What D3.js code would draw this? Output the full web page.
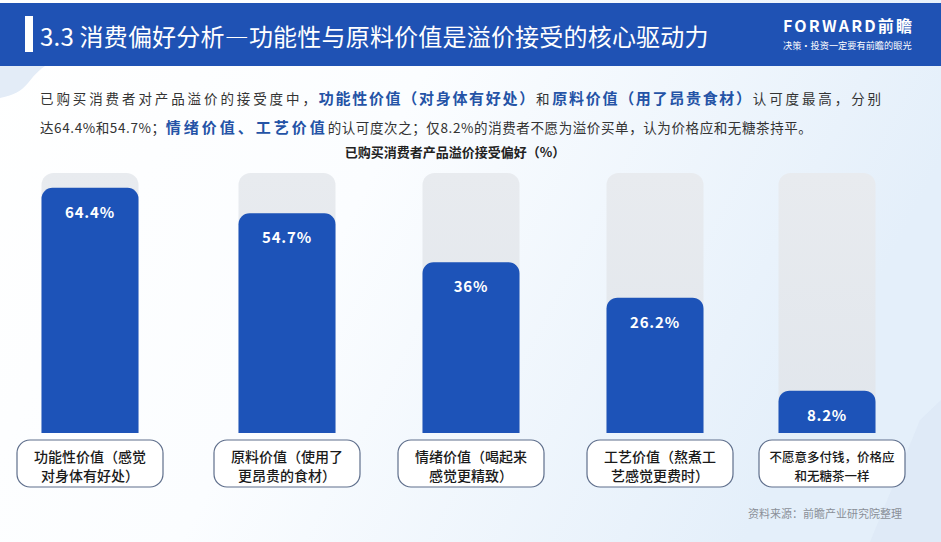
<!DOCTYPE html>
<html lang="zh-CN">
<head>
<meta charset="utf-8">
<title>消费偏好分析</title>
<style>
  body { margin: 0; background: #fff; }
  svg { display: block; font-family: "Noto Sans CJK SC", "Noto Sans", sans-serif; }
</style>
<script src="https://d3js.org/d3.v7.min.js"></script>
</head>
<body>
<svg id="chart" width="941" height="542"></svg>
<script>
// data
var categories = ["功能性价值", "原料价值", "情绪价值", "工艺价值", "不愿意多付钱"];
var values = [64.4, 54.7, 36, 26.2, 8.2];
var boxLines = [
  ["功能性价值（感觉", "对身体有好处）"],
  ["原料价值（使用了", "更昂贵的食材）"],
  ["情绪价值（喝起来", "感觉更精致）"],
  ["工艺价值（熬煮工", "艺感觉更费时）"],
  ["不愿意多付钱，价格应", "和无糖茶一样"]
];

var title = "3.3 消费偏好分析—功能性与原料价值是溢价接受的核心驱动力";
var chartTitle = "已购买消费者产品溢价接受偏好（%）";
var source = "资料来源：前瞻产业研究院整理";
var intro = [
  [["已购买消费者对产品溢价的接受度中，", 0], ["功能性价值（对身体有好处）", 1], ["和", 0],
   ["原料价值（用了昂贵食材）", 1], ["认可度最高，分别", 0]],
  [["达64.4%和54.7%；", 0], ["情绪价值、工艺价值", 1], ["的认可度次之；仅8.2%的消费者不愿为溢价买单，认为价格应和无糖茶持平。", 0]]
];

var svg = d3.select("#chart");
var W = 941, H = 542;

// background
var defs = svg.append("defs");
var bg = defs.append("linearGradient").attr("id", "bg").attr("x1", 0).attr("x2", 1).attr("y1", 0).attr("y2", 0.3);
bg.append("stop").attr("offset", "0%").attr("stop-color", "#ffffff");
bg.append("stop").attr("offset", "45%").attr("stop-color", "#fbfdff");
bg.append("stop").attr("offset", "100%").attr("stop-color", "#e4effa");
svg.append("rect").attr("width", W).attr("height", H).attr("fill", "url(#bg)");
svg.append("path").attr("d", "M 0,66 L 45,66 C 25,80 30,92 0,98 Z").attr("fill", "#e3ecf7");
svg.append("path").attr("d", "M 870,542 L 920,420 L 941,400 L 941,542 Z").attr("fill", "#dde9f6").attr("opacity", 0.8);

// header
svg.append("rect").attr("x", 0).attr("y", 3).attr("width", W).attr("height", 63).attr("fill", "#1f52b4");
svg.append("rect").attr("x", 25).attr("y", 16).attr("width", 8).attr("height", 36).attr("fill", "#fff");
svg.append("text").attr("x", 40).attr("y", 46).attr("fill", "#fff")
  .attr("font-size", 24).attr("letter-spacing", 0.2).text(title);
svg.append("text").attr("x", 783).attr("y", 32).attr("fill", "#fff")
  .attr("font-size", 16).attr("font-weight", "bold").attr("textLength", 129).text("FORWARD前瞻");
svg.append("text").attr("x", 783).attr("y", 49).attr("fill", "#fff")
  .attr("font-size", 9.2).text("决策·投资一定要有前瞻的眼光");

// intro text
var spacing = [[2.9, 1.7], [0.6, 3]];
intro.forEach(function(line, i) {
  var t = svg.append("text").attr("x", 40).attr("y", 104 + i * 29);
  line.forEach(function(seg) {
    t.append("tspan")
      .attr("font-size", seg[1] ? 15 : 13.5)
      .attr("font-weight", seg[1] ? "bold" : "normal")
      .attr("letter-spacing", spacing[i][seg[1]])
      .attr("fill", seg[1] ? "#2453a6" : "#333")
      .text(seg[0]);
  });
});

svg.append("text").attr("x", 455).attr("y", 157).attr("text-anchor", "middle")
  .attr("font-size", 13).attr("font-weight", "bold").attr("fill", "#222").text(chartTitle);

// scales
var x = d3.scaleOrdinal().domain(categories).range([90, 287, 471, 655, 827]);
var barW = 97;
var baseY = 433, trackTop = 173;
var y = d3.scaleLinear().domain([0, 30, 70]).range([baseY, baseY - 155, trackTop]);

function topRounded(x0, y0, w, h, r) {
  var p = d3.path();
  p.moveTo(x0, y0 + h);
  p.lineTo(x0, y0 + r);
  p.arcTo(x0, y0, x0 + r, y0, r);
  p.lineTo(x0 + w - r, y0);
  p.arcTo(x0 + w, y0, x0 + w, y0 + r, r);
  p.lineTo(x0 + w, y0 + h);
  p.closePath();
  return p.toString();
}

var track = defs.append("linearGradient").attr("id", "track").attr("x1", 0).attr("x2", 0).attr("y1", 0).attr("y2", 1);
track.append("stop").attr("offset", "0%").attr("stop-color", "#e8ebef");
track.append("stop").attr("offset", "100%").attr("stop-color", "#e1e6ec");

var g = svg.append("g");
g.selectAll(".track").data(categories).join("path")
  .attr("class", "track")
  .attr("fill", "url(#track)")
  .attr("d", function(d) { return topRounded(x(d) - barW / 2, y(70), barW, baseY - y(70), 12); });

g.selectAll(".bar").data(values).join("path")
  .attr("class", "bar")
  .attr("fill", "#1d53b8")
  .attr("d", function(v, i) { return topRounded(x(categories[i]) - barW / 2, y(v), barW, baseY - y(v), 11); });

g.selectAll(".val").data(values).join("text")
  .attr("class", "val")
  .attr("x", function(v, i) { return x(categories[i]); })
  .attr("y", function(v) { return y(v) + 30; })
  .attr("text-anchor", "middle")
  .attr("fill", "#fff")
  .attr("font-size", 15)
  .attr("font-weight", "bold")
  .attr("letter-spacing", 0.8)
  .text(function(v) { return v + "%"; });

// category boxes
var boxW = 146, boxH = 47, boxY = 440;
var boxes = g.selectAll(".box").data(categories).join("g").attr("class", "box");
boxes.each(function(d, i) {
  var cx = x(d) + (i >= 3 ? 5 : 0);
  var b = d3.select(this);
  b.append("rect")
    .attr("x", cx - boxW / 2).attr("y", boxY).attr("width", boxW).attr("height", boxH)
    .attr("rx", 13).attr("fill", "#fff").attr("stroke", "#5f6f8c").attr("stroke-width", 1.2);
  b.selectAll("text").data(boxLines[i]).join("text")
    .attr("x", cx)
    .attr("y", function(s, j) { return 462 + j * 19; })
    .attr("text-anchor", "middle")
    .attr("font-size", i === 4 ? 12.5 : 14)
    .attr("font-weight", 500)
    .attr("fill", "#1a1a1a")
    .text(function(s) { return s; });
});

svg.append("text").attr("x", 902).attr("y", 518).attr("text-anchor", "end")
  .attr("font-size", 11).attr("fill", "#8a8f98").text(source);
</script>
</body>
</html>
